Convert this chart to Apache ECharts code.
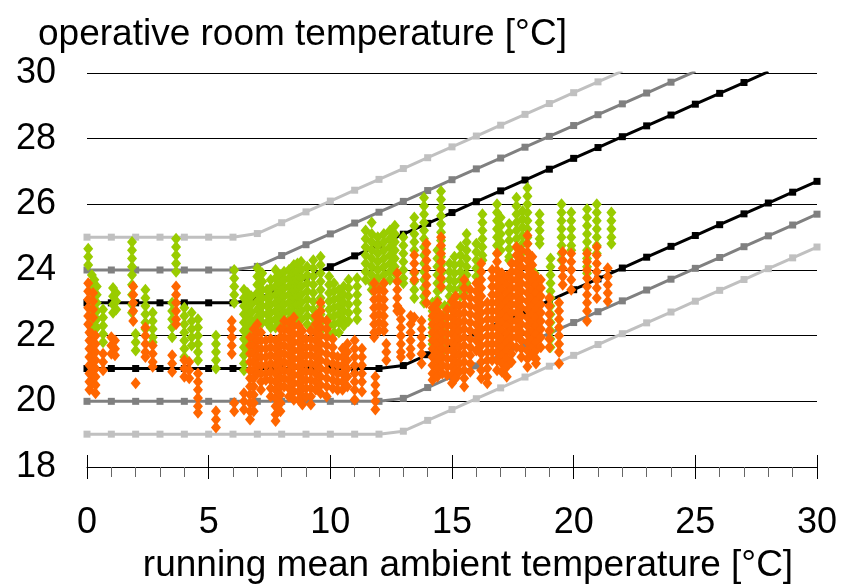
<!DOCTYPE html>
<html>
<head>
<meta charset="utf-8">
<script src="https://cdn.jsdelivr.net/npm/echarts@6/dist/echarts.min.js"></script>
<style>
  html, body { margin: 0; padding: 0; background: #fff; }
  #chart { width: 856px; height: 584px; }
</style>
</head>
<body>
<div id="chart"></div>
<script>
  // comfort band lines, one value per integer of running mean temperature (x = 0, 1, 2 ...)
  var upperCat1 = [23, 23, 23, 23, 23, 23, 23, 23.11, 23.44, 23.77, 24.1, 24.43, 24.76, 25.09, 25.42, 25.75, 26.08, 26.41, 26.74, 27.07, 27.4, 27.73, 28.06, 28.39, 28.72, 29.05, 29.38, 29.71, 30.04];
  var upperCat2 = [24, 24, 24, 24, 24, 24, 24, 24.11, 24.44, 24.77, 25.1, 25.43, 25.76, 26.09, 26.42, 26.75, 27.08, 27.41, 27.74, 28.07, 28.4, 28.73, 29.06, 29.39, 29.72, 30.05];
  var upperCat3 = [25, 25, 25, 25, 25, 25, 25, 25.11, 25.44, 25.77, 26.1, 26.43, 26.76, 27.09, 27.42, 27.75, 28.08, 28.41, 28.74, 29.07, 29.4, 29.73, 30.06];
  var lowerCat1 = [21, 21, 21, 21, 21, 21, 21, 21, 21, 21, 21, 21, 21, 21.09, 21.42, 21.75, 22.08, 22.41, 22.74, 23.07, 23.4, 23.73, 24.06, 24.39, 24.72, 25.05, 25.38, 25.71, 26.04, 26.37, 26.7];
  var lowerCat2 = [20, 20, 20, 20, 20, 20, 20, 20, 20, 20, 20, 20, 20, 20.09, 20.42, 20.75, 21.08, 21.41, 21.74, 22.07, 22.4, 22.73, 23.06, 23.39, 23.72, 24.05, 24.38, 24.71, 25.04, 25.37, 25.7];
  var lowerCat3 = [19, 19, 19, 19, 19, 19, 19, 19, 19, 19, 19, 19, 19, 19.09, 19.42, 19.75, 20.08, 20.41, 20.74, 21.07, 21.4, 21.73, 22.06, 22.39, 22.72, 23.05, 23.38, 23.71, 24.04, 24.37, 24.7];

  // measured room temperatures, grouped by day: [running mean, [operative temps]]
  var greenDays = [
    [0.05, [24.65, 24.4, 24.15]],
    [0.2, [23.85, 23.6, 23.35, 23.1, 22.85, 22.6, 22.35, 22.1]],
    [0.3, [23.7, 23.45, 23.2, 22.95, 22.7, 22.45, 22.2]],
    [0.4, [23.5, 23.25, 23.0, 22.75, 22.5, 22.25]],
    [0.66, [22.8, 22.55, 22.3, 22.05, 21.8]],
    [1.07, [23.45, 23.2, 22.95, 22.7]],
    [1.2, [23.3, 23.05, 22.8]],
    [1.85, [24.85, 24.6, 24.35, 24.1, 23.85, 23.55, 23.25, 22.95, 22.7]],
    [2.0, [22.05, 21.8, 21.55]],
    [2.4, [23.4, 23.15, 22.9, 22.65, 22.4, 22.2]],
    [2.7, [22.7, 22.45, 22.2, 21.95, 21.8]],
    [3.5, [23.0, 22.75, 22.5, 22.25, 21.95]],
    [3.66, [24.95, 24.7, 24.45, 24.2, 23.95]],
    [4.0, [22.85, 22.6, 22.35, 22.1, 21.85, 21.6, 21.35]],
    [4.3, [22.7, 22.45, 22.2, 21.95, 21.7]],
    [4.56, [22.5, 22.25, 22.0, 21.75, 21.5, 21.25]],
    [5.3, [22.0, 21.75, 21.5, 21.25, 21.0]],
    [6.05, [24.0, 23.75, 23.5, 23.25, 23.0]],
    [6.45, [23.4, 23.15, 22.9, 22.65, 22.4, 22.15, 21.9, 21.65, 21.4, 21.15, 20.95]],
    [6.6, [23.3, 23.05, 22.8, 22.55, 22.3, 22.05, 21.8, 21.55]],
    [6.75, [23.2, 22.95, 22.7, 22.45, 22.2, 21.95, 21.7]],
    [7.0, [24.05, 23.8, 23.55, 23.3, 23.05, 22.8, 22.55, 22.3]],
    [7.2, [23.9, 23.65, 23.4, 23.15, 22.9, 22.65, 22.4]],
    [7.4, [23.4, 23.15, 22.9, 22.65, 22.4]],
    [7.55, [23.7, 23.45, 23.2, 22.95, 22.7, 22.45, 22.25]],
    [7.75, [24.0, 23.75, 23.5, 23.25, 23.0, 22.75, 22.5, 22.25]],
    [7.95, [23.85, 23.6, 23.35, 23.1, 22.85, 22.6, 22.35]],
    [8.1, [23.95, 23.7, 23.45, 23.2, 22.95, 22.7, 22.45, 22.25]],
    [8.3, [24.0, 23.75, 23.5, 23.25, 23.0, 22.75, 22.5, 22.3]],
    [8.5, [24.15, 23.9, 23.65, 23.4, 23.15, 22.9, 22.65, 22.45]],
    [8.65, [24.2, 23.95, 23.7, 23.45, 23.2, 22.95, 22.7, 22.45]],
    [8.8, [24.25, 24.0, 23.75, 23.5, 23.25, 23.0, 22.75, 22.5]],
    [9.05, [24.1, 23.85, 23.6, 23.35, 23.1, 22.85, 22.6, 22.35]],
    [9.3, [24.3, 24.05, 23.8, 23.55, 23.3, 23.05, 22.8, 22.55, 22.3]],
    [9.6, [24.4, 24.15, 23.9, 23.65, 23.4, 23.15, 22.9, 22.65, 22.4, 22.15]],
    [9.95, [23.8, 23.55, 23.3, 23.05, 22.8, 22.55, 22.3, 22.05]],
    [10.15, [23.6, 23.35, 23.1, 22.85, 22.6, 22.35, 22.1]],
    [10.35, [23.4, 23.15, 22.9, 22.65, 22.4, 22.1]],
    [10.55, [23.5, 23.25, 23.0, 22.75, 22.5, 22.3]],
    [10.75, [23.7, 23.45, 23.2, 22.95, 22.7, 22.45]],
    [11.1, [23.75, 23.5, 23.25, 23.0, 22.75, 22.5]],
    [11.45, [25.2, 24.95, 24.7, 24.45, 24.2, 23.95, 23.7]],
    [11.7, [25.45, 25.1, 24.85, 24.6, 24.35, 24.1, 23.85, 23.6, 23.4]],
    [11.95, [25.0, 24.75, 24.5, 24.25, 24.0, 23.75, 23.5]],
    [12.2, [25.1, 24.85, 24.6, 24.35, 24.1, 23.85, 23.6]],
    [12.45, [25.2, 24.95, 24.7, 24.45, 24.2, 23.95, 23.7]],
    [12.65, [25.35, 25.1, 24.85, 24.6, 24.35, 24.1, 23.9]],
    [13.0, [25.0, 24.75, 24.5, 24.25, 24.0, 23.75, 23.6]],
    [13.45, [25.6, 25.35, 25.1, 24.85, 24.6, 23.9, 23.65, 23.4, 23.15]],
    [13.85, [26.2, 25.95, 25.7, 25.45, 25.2, 24.95, 24.7, 24.45, 24.2, 23.95, 23.7, 23.45, 23.2, 23.0]],
    [14.2, [23.0, 22.75, 22.5, 22.25, 22.0, 21.75]],
    [14.4, [24.6, 24.35, 24.1, 23.85, 23.6, 23.35, 23.1, 22.85]],
    [14.55, [26.4, 26.15, 25.9, 25.65, 25.4, 25.15, 24.9, 24.65, 24.4, 24.15, 23.9, 23.65, 23.45]],
    [14.7, [22.9, 22.65, 22.4, 22.15, 21.9, 21.6]],
    [14.9, [24.2, 23.95, 23.7, 23.45, 23.2, 22.95]],
    [15.1, [24.4, 24.15, 23.9, 23.65, 23.4, 23.15, 22.9, 22.65, 22.4, 22.15]],
    [15.35, [24.7, 24.45, 24.2, 23.95, 23.7, 23.45, 23.2]],
    [15.6, [25.1, 24.85, 24.6, 24.35, 24.1, 23.85, 23.6, 23.4]],
    [16.0, [24.8, 24.55, 24.3, 24.05, 23.8]],
    [16.25, [25.7, 25.45, 25.2, 24.95, 24.7, 24.45, 24.3]],
    [16.85, [26.0, 25.75, 25.5, 25.25, 25.0, 24.75, 24.5]],
    [17.0, [25.6, 25.35, 25.1, 24.85, 24.6]],
    [17.35, [25.4, 25.15, 24.9, 24.65, 24.4, 24.3]],
    [17.65, [26.2, 25.95, 25.7, 25.45, 25.2, 24.95, 24.7]],
    [17.9, [25.8, 25.55, 25.3, 25.05, 24.8, 24.55]],
    [18.1, [26.5, 26.25, 26.0, 25.75, 25.5, 25.25, 25.0, 24.8]],
    [18.4, [23.9, 23.65, 23.4, 23.15, 22.9, 22.65, 22.4, 22.15]],
    [18.6, [25.7, 25.45, 25.2, 24.95, 24.8]],
    [19.05, [24.35, 24.1, 23.85, 23.6, 23.35, 23.15, 22.9, 22.65, 22.4, 22.15, 21.9, 21.65]],
    [19.5, [26.0, 25.75, 25.5, 25.25, 25.0, 24.75, 24.5, 24.3]],
    [19.9, [25.75, 25.5, 25.25, 25.0, 24.75, 24.6]],
    [20.55, [25.85, 25.6, 25.35, 25.1, 24.85, 24.6, 24.35, 24.1, 23.9]],
    [20.95, [26.0, 25.75, 25.5, 25.25, 25.0, 24.75, 24.5]],
    [21.55, [25.75, 25.5, 25.25, 25.0, 24.8]]
  ];

  var orangeDays = [
    [0.05, [23.6, 23.35, 23.1, 22.85, 22.6, 22.35]],
    [0.25, [23.3, 23.05, 22.8, 22.55]],
    [0.1, [22.1, 21.85, 21.6, 21.35, 21.1, 20.85, 20.6, 20.35]],
    [0.2, [22.05, 21.8, 21.55, 21.3, 21.05, 20.8, 20.55]],
    [0.35, [22.0, 21.75, 21.5, 21.25, 21.0, 20.75, 20.5, 20.25]],
    [0.66, [21.45, 21.2, 20.95]],
    [1.0, [21.95, 21.7, 21.45]],
    [1.15, [21.85, 21.6, 21.4]],
    [1.9, [23.5, 23.25, 23.0, 22.75, 22.45]],
    [2.0, [20.55]],
    [2.4, [22.25, 22.0, 21.75, 21.5, 21.35]],
    [2.7, [21.7, 21.45, 21.2, 21.05]],
    [3.5, [21.4, 21.15, 20.9]],
    [3.66, [23.5, 23.25, 23.0, 22.75, 22.5, 22.35]],
    [4.0, [21.25, 21.0, 20.75]],
    [4.2, [21.2, 20.95, 20.7]],
    [4.56, [20.85, 20.6, 20.35, 20.1, 19.85, 19.65]],
    [5.3, [19.7, 19.45, 19.2]],
    [5.95, [22.45, 22.2, 21.95, 21.7, 21.45]],
    [6.05, [19.95, 19.7]],
    [6.45, [20.25, 20.0, 19.75]],
    [6.7, [21.95, 21.7, 21.45, 21.2, 20.95, 20.7, 20.45, 20.2, 19.95, 19.7, 19.45]],
    [6.85, [22.2, 21.95, 21.7, 21.45, 21.2, 20.95, 20.7, 20.45, 20.2, 19.95, 19.7]],
    [7.0, [22.35, 22.1, 21.85, 21.6, 21.35, 21.1, 20.85]],
    [7.15, [22.1, 21.85, 21.6, 21.35, 21.1, 20.85, 20.6, 20.35]],
    [7.35, [21.85, 21.6, 21.35, 21.1, 20.85, 20.65]],
    [7.55, [21.9, 21.65, 21.4, 21.15, 20.9, 20.65, 20.4, 20.15]],
    [7.75, [21.85, 21.6, 21.35, 21.1, 20.85, 20.6, 20.35, 20.1, 19.85, 19.6, 19.4]],
    [7.95, [22.2, 21.95, 21.7, 21.45, 21.2, 20.95, 20.7, 20.45, 20.2, 19.95, 19.7]],
    [8.1, [22.45, 22.2, 21.95, 21.7, 21.45, 21.2, 20.95, 20.7, 20.45]],
    [8.3, [22.4, 22.15, 21.9, 21.65, 21.4, 21.15, 20.9, 20.65, 20.4, 20.15]],
    [8.5, [22.55, 22.3, 22.05, 21.8, 21.55, 21.3, 21.05, 20.8, 20.55, 20.3, 20.05]],
    [8.7, [22.3, 22.05, 21.8, 21.55, 21.3, 21.05, 20.8, 20.55, 20.3, 20.05]],
    [8.85, [22.15, 21.9, 21.65, 21.4, 21.15, 20.9, 20.65, 20.4, 20.15, 19.9]],
    [9.0, [21.9, 21.65, 21.4, 21.15, 20.9, 20.65, 20.4, 20.15]],
    [9.2, [22.15, 21.9, 21.65, 21.4, 21.15, 20.9, 20.65, 20.4, 20.15, 19.9]],
    [9.4, [22.6, 22.35, 22.1, 21.85, 21.6, 21.35, 21.1, 20.85, 20.6, 20.35]],
    [9.6, [23.0, 22.75, 22.5, 22.25, 22.0, 21.75, 21.5, 21.25, 21.0, 20.75, 20.5, 20.25]],
    [9.85, [22.45, 22.2, 21.95, 21.7, 21.45, 21.2, 20.95, 20.7, 20.45, 20.15]],
    [10.1, [21.9, 21.65, 21.4, 21.15, 20.9, 20.65, 20.4]],
    [10.3, [21.35, 21.1, 20.85, 20.6, 20.35]],
    [10.5, [21.6, 21.35, 21.1, 20.85, 20.6, 20.35]],
    [10.7, [21.75, 21.5, 21.25, 21.0, 20.75, 20.45]],
    [11.0, [21.85, 21.6, 21.35, 21.1, 20.85, 20.6, 20.35, 20.05]],
    [11.3, [21.6, 21.35, 21.1, 20.85, 20.6, 20.3]],
    [11.8, [23.6, 23.35, 23.1, 22.85, 22.6, 22.35, 22.1, 21.95]],
    [11.85, [20.75, 20.5, 20.25, 20.0, 19.75]],
    [12.0, [23.4, 23.15, 22.9, 22.65, 22.4, 22.15]],
    [12.2, [23.6, 23.35, 23.1, 22.85, 22.6, 22.35, 22.15]],
    [12.3, [21.75, 21.5, 21.25]],
    [12.75, [23.9, 23.65, 23.4, 23.15, 22.9, 22.75]],
    [12.9, [22.75, 22.5, 22.25, 22.0, 21.75, 21.5, 21.35]],
    [13.3, [22.6, 22.35, 22.1, 21.85, 21.6, 21.4]],
    [13.45, [24.45, 24.2, 23.95, 23.7, 22.55]],
    [13.75, [22.45, 22.2, 21.95, 21.7, 21.45, 21.15]],
    [13.95, [24.8, 24.55, 24.3, 24.05, 23.8, 23.55, 23.3, 23.0]],
    [14.2, [22.85, 22.6, 22.35, 22.1, 21.85, 21.6, 21.35, 21.1, 20.85, 20.65]],
    [14.4, [23.0, 22.75, 22.5, 22.25, 22.0, 21.75, 21.5, 21.25, 21.0, 20.75]],
    [14.55, [25.0, 24.75, 24.5, 24.25, 24.0, 23.75, 23.5]],
    [14.6, [22.6, 22.35, 22.1, 21.85, 21.6, 21.35, 21.1, 20.85]],
    [14.8, [22.8, 22.55, 22.3, 22.05, 21.8, 21.55, 21.3, 21.05, 20.8]],
    [15.0, [23.05, 22.8, 22.55, 22.3, 22.05, 21.8, 21.55, 21.3, 21.05, 20.8, 20.55]],
    [15.15, [23.2, 22.95, 22.7, 22.45, 22.2, 21.95, 21.7, 21.45, 21.2, 20.95, 20.7]],
    [15.3, [22.9, 22.65, 22.4, 22.15, 21.9, 21.65, 21.4, 21.15, 20.9]],
    [15.5, [23.7, 23.45, 23.2, 22.95, 22.7, 22.45, 22.2, 21.95, 21.7, 21.45, 21.2, 20.95, 20.7, 20.45]],
    [15.75, [23.4, 23.15, 22.9, 22.65, 22.4, 22.15, 21.9, 21.65, 21.4, 21.15, 20.9]],
    [16.0, [23.6, 23.35, 23.1, 22.85, 22.6, 22.35, 22.1, 21.85, 21.55]],
    [16.2, [24.2, 23.95, 23.7, 23.45, 23.2, 22.95, 22.7, 22.45, 22.2, 21.95, 21.7, 21.45, 21.2, 20.95, 20.7]],
    [16.45, [23.0, 22.75, 22.5, 22.25, 22.0, 21.75, 21.5, 21.25, 21.0, 20.75, 20.55]],
    [16.65, [24.0, 23.75, 23.5, 23.25, 23.0, 22.75, 22.5, 22.25, 22.0, 21.75, 21.5, 21.25]],
    [16.85, [24.5, 24.25, 24.0, 23.75, 23.5, 23.25, 23.0, 22.75, 22.5, 22.25, 22.0, 21.75, 21.5, 21.25, 20.95]],
    [17.05, [23.9, 23.65, 23.4, 23.15, 22.9, 22.65, 22.4, 22.15, 21.9, 21.65, 21.4, 21.15, 20.9]],
    [17.25, [23.8, 23.55, 23.3, 23.05, 22.8, 22.55, 22.3, 22.05, 21.8, 21.55, 21.3, 21.05, 20.75]],
    [17.45, [24.2, 23.95, 23.7, 23.45, 23.2, 22.95, 22.7, 22.45, 22.2, 21.95, 21.7, 21.45, 21.2]],
    [17.65, [24.7, 24.45, 24.2, 23.95, 23.7, 23.45, 23.2, 22.95, 22.7, 22.45, 22.2, 21.95, 21.65]],
    [17.85, [24.6, 24.35, 24.1, 23.85, 23.6, 23.35, 23.1, 22.85, 22.6, 22.35, 22.1, 21.85, 21.6, 21.35]],
    [18.1, [25.05, 24.8, 24.55, 24.3, 24.05, 23.8, 23.55, 23.3, 23.05, 22.8, 22.55, 22.3, 22.05, 21.8, 21.55, 21.3, 21.05]],
    [18.3, [24.4, 24.15, 23.9, 23.65, 23.4, 23.15, 22.9, 22.65, 22.4, 22.15, 21.9, 21.65, 21.4]],
    [18.45, [23.8, 23.55, 23.3, 23.05, 22.8, 22.55, 22.3, 22.05, 21.8, 21.55, 21.3, 21.15]],
    [18.65, [23.7, 23.45, 23.2, 22.95, 22.7, 22.45, 22.2, 21.95, 21.65]],
    [19.0, [23.15, 22.9, 22.65, 22.4, 22.15, 21.9, 21.65]],
    [19.4, [23.0, 22.75, 22.5, 22.25, 22.0, 21.75, 21.5, 21.15]],
    [19.55, [24.55, 24.3, 24.05, 23.8, 23.55]],
    [19.9, [24.5, 24.25, 24.0, 23.7, 23.4]],
    [20.55, [24.5, 24.25, 24.0, 23.75, 23.5, 23.25, 23.0, 22.75, 22.45]],
    [20.95, [24.7, 24.45, 24.2, 23.95, 23.7, 23.45, 23.15]],
    [21.4, [24.05, 23.8, 23.55, 23.3, 23.05]]
  ];

  var font = 'Liberation Sans, Arial, sans-serif';

  function linePoints(values) {
    return values.map(function (v, i) { return [i, v]; });
  }

  function dayPoints(days) {
    var pts = [];
    days.forEach(function (d) {
      d[1].forEach(function (t) { pts.push([d[0], t]); });
    });
    return pts;
  }

  function bandLine(name, values, color) {
    return {
      name: name,
      type: 'line',
      data: linePoints(values),
      symbol: 'rect',
      symbolSize: 7,
      lineStyle: {color: color, width: 3},
      itemStyle: {color: color},
      z: 2,
      silent: true
    };
  }

  var chart = echarts.init(document.getElementById('chart'));
  const option = {
    animation: false,
    title: {
      text: 'operative room temperature [°C]',
      left: 33,
      top: 11,
      textStyle: {fontFamily: font, fontSize: 37, fontWeight: 'normal', color: '#000'}
    },
    grid: {left: 87, right: 39, top: 73, bottom: 117, outerBoundsMode: 'none'},
    xAxis: [
      {
        type: 'value',
        min: 0,
        max: 30,
        interval: 5,
        position: 'bottom',
        axisLine: {lineStyle: {color: '#000', width: 1}},
        axisTick: {length: 12, lineStyle: {color: '#000'}},
        minorTick: {show: true, splitNumber: 5, length: 10, lineStyle: {color: '#666'}},
        axisLabel: {margin: 38, fontFamily: font, fontSize: 36, color: '#000'},
        splitLine: {show: false},
        name: 'running mean ambient temperature [°C]',
        nameLocation: 'middle',
        nameGap: 80,
        nameTextStyle: {fontFamily: font, fontSize: 37, color: '#000', padding: [0, 0, 0, 32]}
      },
      {
        // upper half of the major ticks
        type: 'value',
        min: 0,
        max: 30,
        interval: 5,
        position: 'bottom',
        axisLine: {show: false},
        axisTick: {inside: true, length: 12, lineStyle: {color: '#000'}},
        axisLabel: {show: false},
        splitLine: {show: false}
      }
    ],
    yAxis: {
      type: 'value',
      min: 18,
      max: 30,
      interval: 2,
      axisLine: {show: false},
      axisTick: {show: false},
      axisLabel: {margin: 31, fontFamily: font, fontSize: 36, color: '#000'},
      splitLine: {lineStyle: {color: '#000', width: 1}}
    },
    series: [
      bandLine('upper III', upperCat3, '#c0c0c0'),
      bandLine('upper II', upperCat2, '#808080'),
      bandLine('upper I', upperCat1, '#000'),
      bandLine('lower III', lowerCat3, '#c0c0c0'),
      bandLine('lower II', lowerCat2, '#808080'),
      bandLine('lower I', lowerCat1, '#000'),
      {
        name: 'green',
        type: 'scatter',
        data: dayPoints(greenDays),
        symbol: 'diamond',
        symbolSize: [10, 12],
        itemStyle: {color: '#99cc00', opacity: 1},
        z: 3
      },
      {
        name: 'orange',
        type: 'scatter',
        data: dayPoints(orangeDays),
        symbol: 'diamond',
        symbolSize: [10, 12],
        itemStyle: {color: '#ff6600', opacity: 1},
        z: 4
      }
    ]
  };
  chart.setOption(option);
</script>
</body>
</html>
